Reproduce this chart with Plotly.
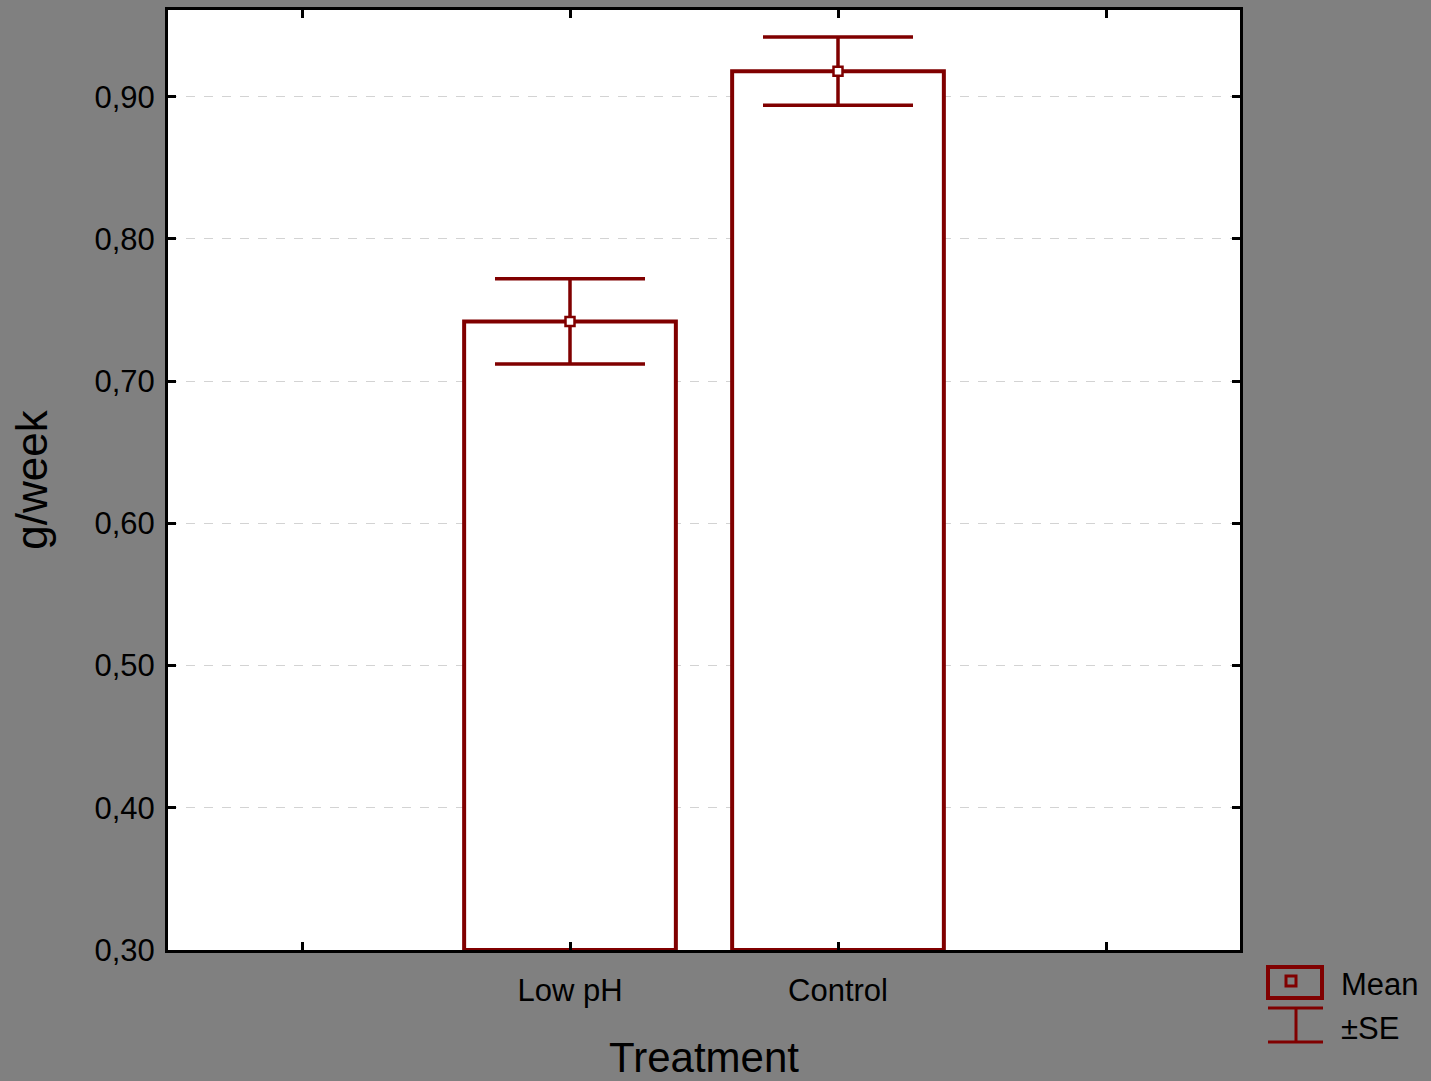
import plotly.graph_objects as go

# ---- data ----
slots = ["  ", "Low pH", "Control", "   "]
categories = ["Low pH", "Control"]
means = [0.742, 0.918]
se = [0.030, 0.024]
y_ticks = [0.30, 0.40, 0.50, 0.60, 0.70, 0.80, 0.90]
y_tick_labels = ["0,30", "0,40", "0,50", "0,60", "0,70", "0,80", "0,90"]
Y_MIN, Y_MAX = 0.30, 0.961

RED = "#800000"
FONT = "Liberation Sans, Arial, sans-serif"

fig = go.Figure()

fig.add_trace(go.Bar(
    x=categories,
    y=[m - Y_MIN for m in means],
    base=Y_MIN,
    width=0.79,
    marker=dict(color="white", line=dict(color=RED, width=4)),
    showlegend=False,
    hoverinfo="skip",
))

fig.add_trace(go.Scatter(
    x=categories,
    y=means,
    mode="markers",
    marker=dict(symbol="square", size=9, color="white", line=dict(color=RED, width=2.5)),
    error_y=dict(type="data", array=se, visible=True, color=RED, thickness=3.5, width=75),
    showlegend=False,
))

# plot-area pixel geometry (for the hand-drawn legend)
L, R, T, B = 168, 1240, 10, 950
def px(x):
    return (x - L) / (R - L)
def py(y):
    return (B - y) / (B - T)

shapes = [
    dict(type="rect", xref="paper", yref="paper", x0=px(1268), x1=px(1322), y0=py(998), y1=py(967),
         line=dict(color=RED, width=4), fillcolor="rgba(0,0,0,0)"),
    dict(type="rect", xref="paper", yref="paper", x0=px(1286), x1=px(1296), y0=py(986), y1=py(976),
         line=dict(color=RED, width=3), fillcolor="rgba(0,0,0,0)"),
    dict(type="line", xref="paper", yref="paper", x0=px(1268), x1=px(1323), y0=py(1008), y1=py(1008),
         line=dict(color=RED, width=3)),
    dict(type="line", xref="paper", yref="paper", x0=px(1268), x1=px(1323), y0=py(1042), y1=py(1042),
         line=dict(color=RED, width=3)),
    dict(type="line", xref="paper", yref="paper", x0=px(1296), x1=px(1296), y0=py(1008), y1=py(1042),
         line=dict(color=RED, width=3)),
]
annotations = [
    dict(xref="paper", yref="paper", x=px(1339), y=py(985), text="Mean", showarrow=False,
         xanchor="left", yanchor="middle", font=dict(family=FONT, size=31, color="black")),
    dict(xref="paper", yref="paper", x=px(1339), y=py(1028), text="±SE", showarrow=False,
         xanchor="left", yanchor="middle", font=dict(family=FONT, size=31, color="black")),
]

fig.update_layout(
    autosize=False,
    width=1431, height=1081,
    margin=dict(l=L, r=1431 - R, t=T, b=1081 - B, pad=0, autoexpand=False),
    paper_bgcolor="#808080",
    plot_bgcolor="white",
    font=dict(family=FONT, color="black"),
    shapes=shapes,
    annotations=annotations,
)

fig.update_xaxes(
    type="category",
    categoryorder="array", categoryarray=slots,
    range=[-0.5, 3.5],
    automargin=False,
    showline=True, linecolor="black", linewidth=3, mirror="ticks",
    ticks="inside", ticklen=8, tickwidth=3, tickcolor="black",
    showgrid=False,
    ticklabelstandoff=11,
    tickfont=dict(family=FONT, size=31, color="black"),
    title=dict(text="Treatment", font=dict(family=FONT, size=42, color="black"), standoff=40),
)

fig.update_yaxes(
    range=[Y_MIN, Y_MAX],
    tickvals=y_ticks, ticktext=y_tick_labels,
    automargin=False,
    showline=True, linecolor="black", linewidth=3, mirror="ticks",
    ticks="inside", ticklen=8, tickwidth=3, tickcolor="black",
    showgrid=True, gridcolor="#d3d3d3", griddash="dash", gridwidth=1,
    zeroline=False,
    ticklabelstandoff=4,
    tickfont=dict(family=FONT, size=31, color="black"),
    title=dict(text="g/week", font=dict(family=FONT, size=44, color="black"), standoff=34),
)

fig.write_html(
    "out.html",
    config={"displayModeBar": False, "responsive": False},
    post_script="document.body.style.margin='0';document.body.style.padding='0';document.body.style.overflow='hidden';",
)
